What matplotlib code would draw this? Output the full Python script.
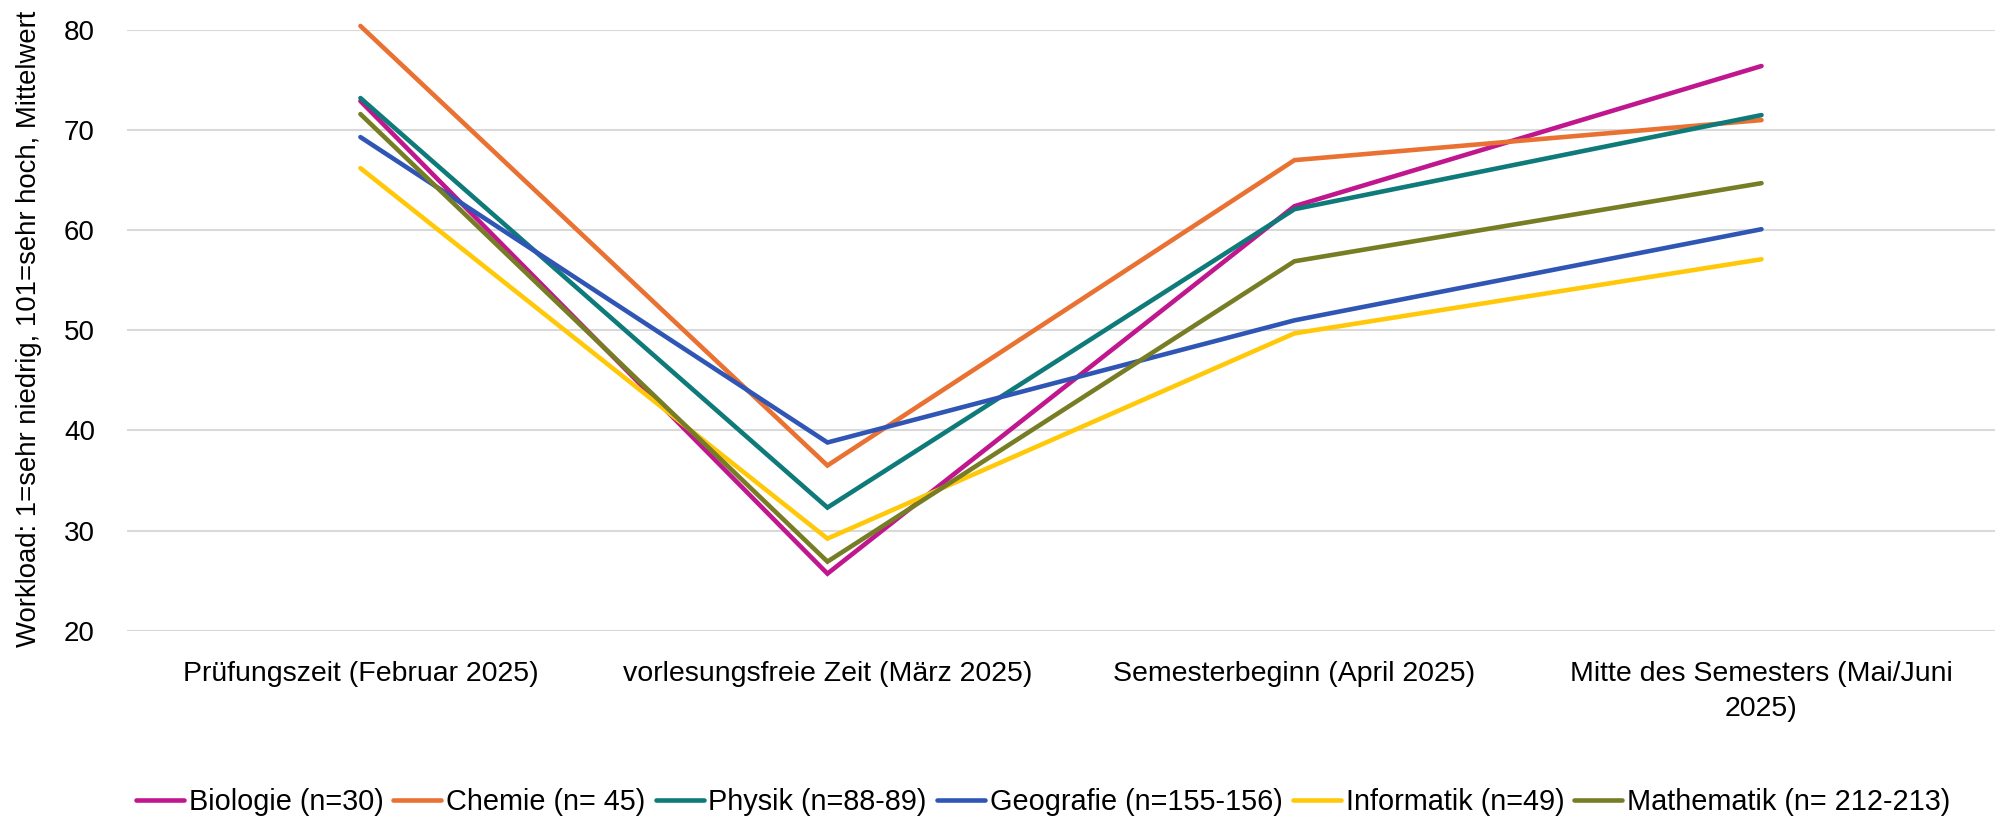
import matplotlib.pyplot as plt

plt.rcParams['font.family'] = ['Liberation Sans', 'DejaVu Sans']

# Zeitpunkte der Befragung
phasen = [
    "Prüfungszeit (Februar 2025)",
    "vorlesungsfreie Zeit (März 2025)",
    "Semesterbeginn (April 2025)",
    "Mitte des Semesters (Mai/Juni\n2025)",
]

# Mittelwerte Workload je Fach
biologie = [72.9, 25.7, 62.4, 76.4]
chemie = [80.4, 36.5, 67.0, 71.0]
physik = [73.2, 32.3, 62.1, 71.5]
geografie = [69.3, 38.8, 51.0, 60.1]
informatik = [66.2, 29.2, 49.7, 57.1]
mathematik = [71.6, 26.9, 56.9, 64.7]

faecher = [
    ("Biologie (n=30)", biologie, "#C0168E"),
    ("Chemie (n= 45)", chemie, "#E97132"),
    ("Physik (n=88-89)", physik, "#0E7A7A"),
    ("Geografie (n=155-156)", geografie, "#3056B5"),
    ("Informatik (n=49)", informatik, "#FFC90A"),
    ("Mathematik (n= 212-213)", mathematik, "#777D25"),
]

fig = plt.figure(figsize=(20.02, 8.19), dpi=100)
ax = fig.add_axes([0.0634, 0.2299, 0.9331, 0.7335])

x = range(len(phasen))
for name, werte, farbe in faecher:
    ax.plot(x, werte, color=farbe, lw=3.3, label=name,
            solid_capstyle='round', solid_joinstyle='miter', clip_on=False)

ax.set_xlim(-0.5, 3.5)
ax.set_ylim(20, 80)
ax.set_yticks(range(20, 81, 10))
ax.grid(axis='y', color='#D9D9D9', lw=1.5)
ax.set_axisbelow(True)
for s in ax.spines.values():
    s.set_visible(False)
ax.tick_params(length=0)
ax.tick_params(axis='y', labelsize=20, pad=23)
ax.set_xticks(list(x))
ax.set_xticklabels(phasen, fontsize=20.5, linespacing=1.45)
ax.tick_params(axis='x', pad=22)

fig.text(0.0145, 0.598, "Workload: 1=sehr niedrig, 101=sehr hoch, Mittelwert",
         fontsize=19.8, rotation=90, ha='center', va='center')

ax.legend(loc='center', bbox_to_anchor=(0.521, 0.021), bbox_transform=fig.transFigure,
          ncol=6, frameon=False, fontsize=20.8, handlelength=1.66, handletextpad=0.17,
          columnspacing=0.35)

fig.savefig("out.png", dpi=100)
